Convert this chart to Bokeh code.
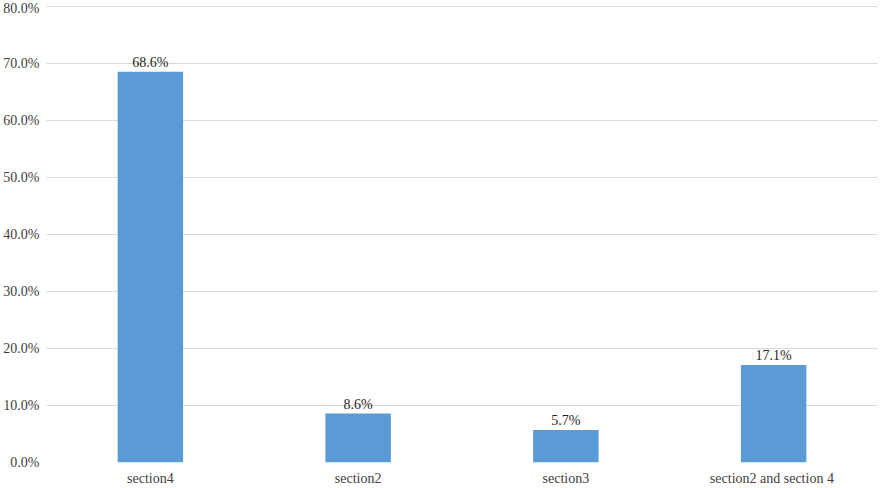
from bokeh.plotting import figure
from bokeh.models import ColumnDataSource, FixedTicker, PrintfTickFormatter, Range1d, FactorRange, LabelSet
from bokeh.embed import file_html
from bokeh.resources import INLINE

categories = ["section4", "section2", "section3", "section2  and section 4"]
values = [68.6, 8.6, 5.7, 17.1]
y_ticks = [0, 10, 20, 30, 40, 50, 60, 70, 80]

labels = [f"{v:.1f}%" for v in values]
src = ColumnDataSource(dict(cat=categories, val=values, lab=labels))

FONT = "serif"

p = figure(width=878, height=488, x_range=FactorRange(*categories),
           y_range=Range1d(0, 80.25), output_backend="svg", toolbar_location=None,
           min_border_left=40, min_border_right=1, min_border_top=5, min_border_bottom=24)
p.outline_line_color = None
p.background_fill_color = "white"
p.border_fill_color = "white"

p.vbar(x="cat", top="val", width=0.315, source=src, color="#5B9BD5", line_color=None)

p.add_layout(LabelSet(x="cat", y="val", text="lab", source=src, text_align="center",
                      text_baseline="bottom", y_offset=2, text_font=FONT,
                      text_font_size="14px", text_color="#262626"))

p.yaxis.ticker = FixedTicker(ticks=y_ticks)
p.yaxis.formatter = PrintfTickFormatter(format="%.1f%%")
p.yaxis.axis_line_color = None
p.yaxis.major_tick_line_color = None
p.yaxis.minor_tick_line_color = None
p.yaxis.major_tick_out = 0
p.yaxis.major_tick_in = 0
p.yaxis.major_label_text_font = FONT
p.yaxis.major_label_text_font_size = "14px"
p.yaxis.major_label_text_color = "#404040"
p.yaxis.major_label_standoff = 7

p.xaxis.axis_line_color = None
p.xaxis.major_tick_line_color = None
p.xaxis.major_tick_out = 0
p.xaxis.major_tick_in = 0
p.xaxis.major_label_text_font = FONT
p.xaxis.major_label_text_font_size = "14px"
p.xaxis.major_label_text_color = "#404040"
p.xaxis.major_label_standoff = 8

p.xgrid.grid_line_color = None
p.ygrid.grid_line_color = "#d9d9d9"
p.ygrid.grid_line_width = 1

open("out.html", "w").write(file_html(p, INLINE))
